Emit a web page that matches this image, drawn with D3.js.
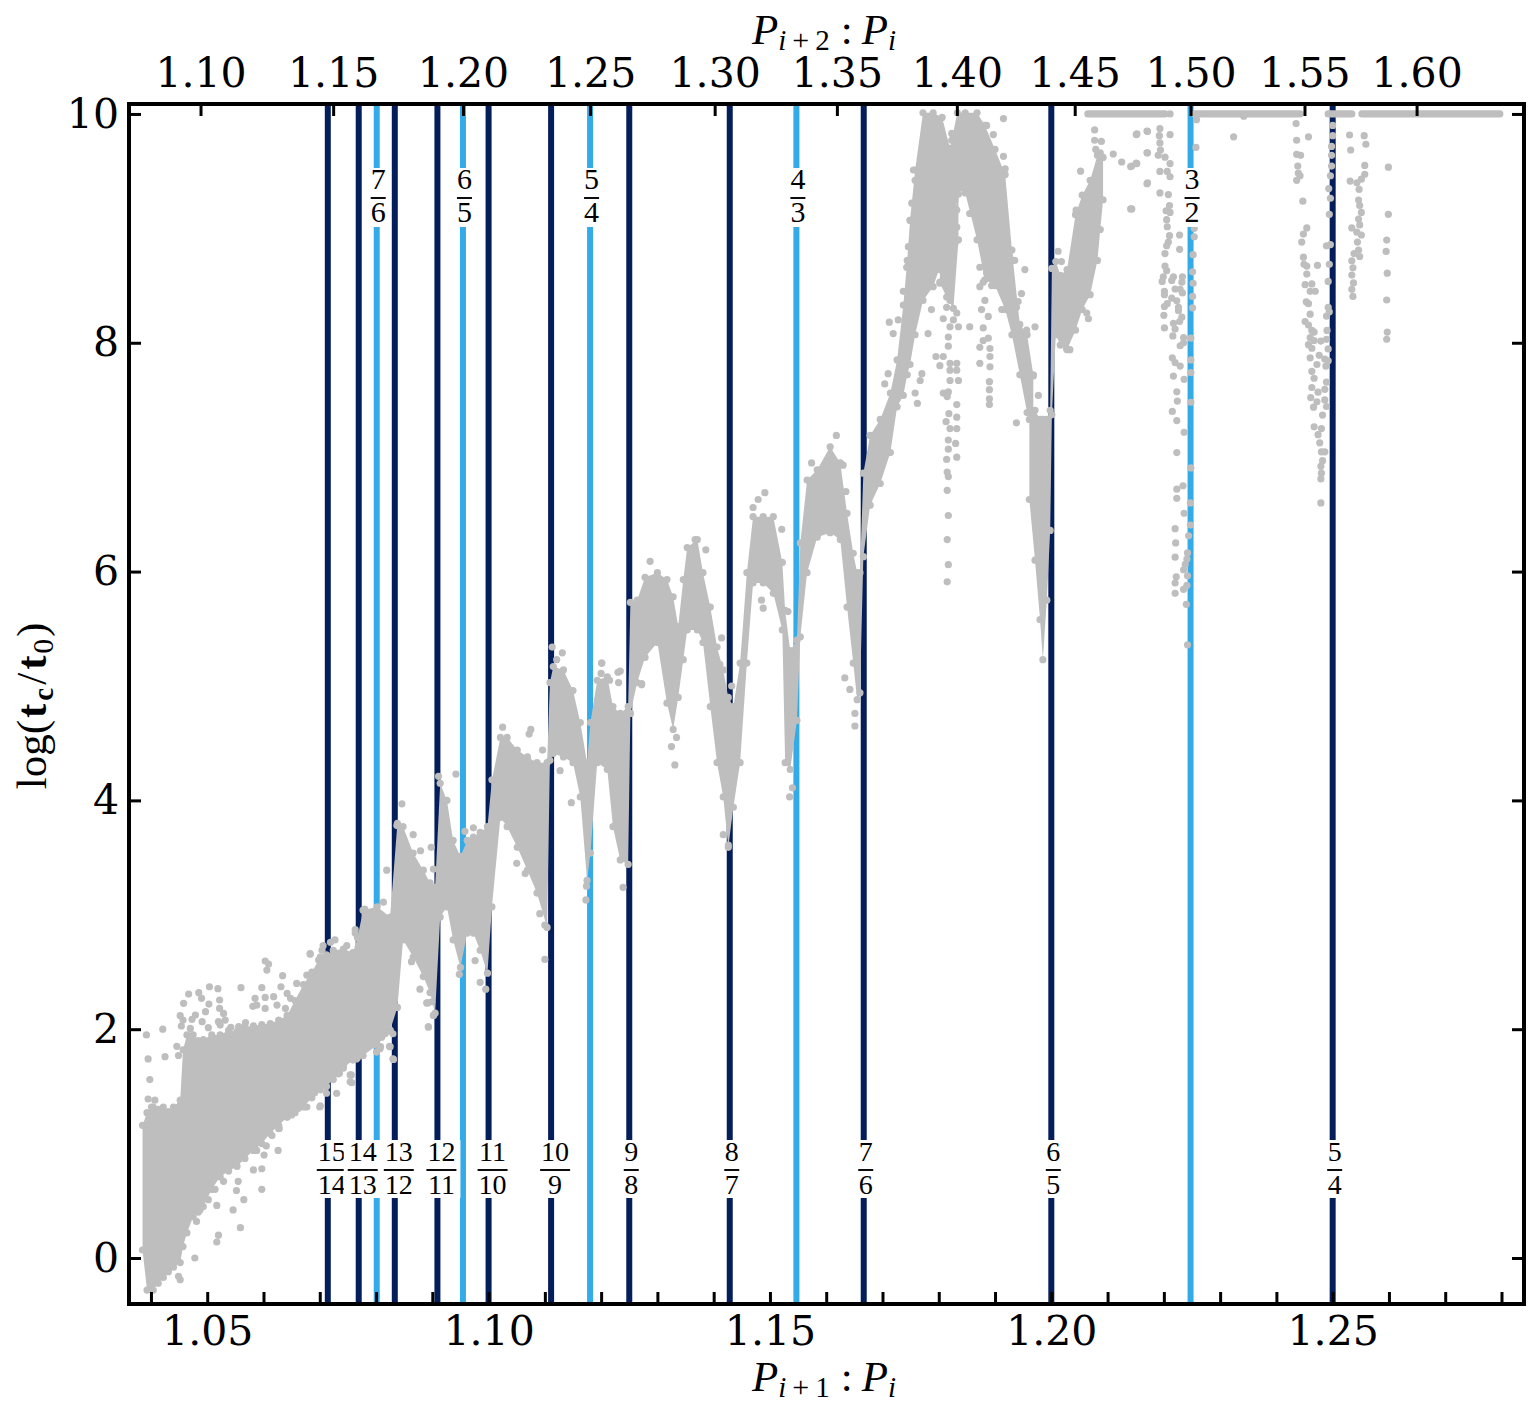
<!DOCTYPE html>
<html>
<head>
<meta charset="utf-8">
<style>
  html, body { margin: 0; padding: 0; background: #fff; }
  svg { display: block; }
</style>
<script src="https://cdnjs.cloudflare.com/ajax/libs/d3/7.8.5/d3.min.js"></script>
</head>
<body>
<svg id="chart" width="1539" height="1419"></svg>
<script>
// Collision time against period ratio of adjacent planets.
const bottomTicks = [1.04,1.05,1.06,1.07,1.08,1.09,1.10,1.11,1.12,1.13,1.14,1.15,1.16,1.17,1.18,1.19,1.20,1.21,1.22,1.23,1.24,1.25,1.26,1.27,1.28];
const bottomLabelled = [1.05,1.10,1.15,1.20,1.25];
const topTicks = [1.10,1.15,1.20,1.25,1.30,1.35,1.40,1.45,1.50,1.55,1.60];
const yTicks = [0,2,4,6,8,10];

// First-order resonances between neighbours, and between next-nearest neighbours.
const neighbourResonances = [[15,14],[14,13],[13,12],[12,11],[11,10],[10,9],[9,8],[8,7],[7,6],[6,5],[5,4]];
const nextNeighbourResonances = [[7,6],[6,5],[5,4],[4,3],[3,2]];

// Dense part of the cloud: [ratio, lowest log time, highest log time].
const riseBand = [
[1.0385,0.07,1.16],[1.0393,-0.28,1.27],[1.0404,-0.28,1.32],[1.0413,-0.22,1.3],[1.0422,-0.17,1.32],[1.0431,-0.12,1.28],[1.0440,-0.08,1.32],[1.0452,-0.04,1.38],
[1.0457,0.10,1.82],[1.0464,0.22,1.95],[1.0475,0.36,1.95],[1.0484,0.4,1.9],[1.0493,0.45,1.91],[1.0508,0.6,1.95],[1.0523,0.71,1.95],[1.0538,0.76,1.99],[1.0553,0.80,1.98],
[1.0567,0.87,2.02],[1.0582,0.94,2.03],[1.0597,1.0,2.04],[1.0612,1.09,2.05],[1.0627,1.16,2.08],[1.0642,1.23,2.12],[1.0656,1.27,2.25],[1.0671,1.32,2.39],[1.0686,1.40,2.5],[1.0701,1.47,2.63],[1.0712,1.5,2.65],[1.0724,1.56,2.69],
[1.0742,1.66,2.7],[1.0759,1.73,2.67],[1.0767,1.75,2.8],[1.0777,1.77,3.04],[1.0802,1.86,3.07],[1.0825,1.99,2.98],[1.0838,2.19,3.80],[1.0848,2.78,3.77],
[1.0866,2.63,3.54],[1.0884,2.46,3.39],[1.0896,2.32,3.28],[1.0905,2.14,3.24],[1.0914,2.98,4.15],[1.0926,3.07,4.00],
[1.0937,2.78,3.65],[1.0950,2.54,3.51],[1.0962,2.84,3.65],[1.0973,2.84,3.68],[1.0985,2.69,3.72],[1.0998,2.49,3.77],
[1.1006,3.07,4.18],[1.1021,3.85,4.55],[1.1033,3.77,4.55],[1.1051,3.59,4.44],[1.1069,3.39,4.38],[1.1086,3.19,4.33],
[1.1104,2.89,4.33],[1.1109,4.35,5.03],[1.1115,4.41,5.17],[1.1133,4.38,5.14],[1.1150,4.33,4.96],[1.1163,4.03,4.68],
[1.1175,3.30,4.33],[1.1181,3.54,4.68],[1.1193,4.33,5.05],[1.1211,4.27,5.08],[1.1221,3.77,4.82],[1.1234,3.48,4.76],
[1.1248,3.44,4.82],[1.1252,4.76,5.73],[1.1264,5.03,5.75],[1.1278,5.25,5.95],[1.1300,5.38,5.99],[1.1317,4.85,5.93],
[1.1328,4.62,5.78],[1.1337,4.90,5.52],[1.1346,5.23,5.93],[1.1353,5.49,6.21],[1.1371,5.49,6.28],[1.1381,5.38,5.99],
[1.1394,4.82,5.69],[1.1406,4.33,5.34],[1.1417,4.03,5.14],[1.1426,3.59,4.90],[1.1435,3.94,4.82],[1.1447,4.33,5.20],
[1.1459,5.20,5.99],[1.1470,5.90,6.48],[1.1488,5.90,6.48],[1.1506,5.81,6.48],[1.1522,5.49,6.08],[1.1527,4.33,5.66],
[1.1536,4.27,5.31],[1.1548,4.70,5.40],[1.1554,5.43,6.25],[1.1566,5.99,6.80],[1.1584,6.30,6.89],[1.1607,6.34,7.09],
[1.1625,6.28,6.95],[1.1637,5.69,6.51],[1.1648,5.20,6.16],[1.1655,4.88,5.99],[1.1660,4.94,5.99],[1.1666,6.13,6.86],
[1.1678,6.58,7.19],[1.1696,6.77,7.33],[1.1714,7.04,7.56],[1.1726,7.44,7.85],[1.1737,7.54,8.33],[1.1744,7.72,8.72],[1.1749,7.81,9.07],
[1.1758,8.07,9.51],[1.1772,8.37,10.01],[1.1790,8.49,10.01],[1.1806,8.72,9.97],[1.1820,8.59,9.70],[1.1833,9.34,10.01],
[1.1847,9.31,10.01],[1.1868,8.90,10.01],[1.1882,8.55,9.90],[1.1900,8.50,9.69],[1.1918,8.29,9.47],[1.1930,8.07,8.81],
[1.1944,7.72,8.16],[1.1957,7.39,8.07],[1.1968,7.28,7.72]
];
const dipBand = [
[1.1961,6.63,7.33],[1.1971,6.10,7.41],[1.1980,5.58,7.33],[1.1985,5.23,7.33],[1.1992,5.75,7.33],[1.1998,6.36,7.41],
[1.2001,7.37,8.65],[1.2008,8.07,8.71],[1.2016,7.98,8.59],[1.2028,7.94,8.64],[1.2043,8.11,9.12],[1.2055,8.29,9.29],
[1.2069,8.42,9.42],[1.2082,8.72,9.64],[1.2087,8.99,9.66],[1.2092,9.25,9.62]
];
const branchBand = [[1.1802,8.52,8.66],[1.1814,8.40,8.75],[1.1826,8.30,9.1],[1.1835,8.9,9.3]];

// Stretches of systems that survived to the end of the integrations.
const survivedLevel = 10;
const survivedRuns = [[1.2065,1.2202],[1.2255,1.2442],[1.2492,1.2534],[1.2552,1.2797]];

// Individual systems around the edges of the cloud: [ratio, log time].
const scatterLeft = [
[1.0392,1.95],[1.0421,2.00],[1.0395,1.74],[1.0425,1.76],[1.0398,1.56],[1.0395,1.39],[1.0407,1.38],[1.0401,1.32],
[1.0446,1.85],[1.0449,1.77],[1.0603,2.596],[1.0609,2.57],[1.0606,2.517],[1.0634,2.468],[1.0683,2.657],[1.0504,2.371],
[1.0519,2.354],[1.0560,2.363],[1.0597,2.363],[1.0631,2.371],[1.0467,2.307],[1.0485,2.319],[1.0490,2.27],[1.0458,2.226],
[1.0522,2.255],[1.0503,2.22],[1.0497,2.153],[1.0452,2.118],[1.0479,2.124],[1.0473,2.086],[1.0457,2.08],[1.0454,2.028],
[1.0491,2.066],[1.0522,2.182],[1.0529,2.138],[1.0520,2.066],[1.0532,2.08],[1.0523,2.036],[1.0502,2.013],[1.0470,2.007],
[1.0542,2.016],[1.0556,2.022],[1.0568,2.057],[1.0585,2.27],[1.0588,2.21],[1.0581,2.2],[1.0603,2.278],[1.0618,2.284],
[1.0603,2.182],[1.0624,2.211],[1.0639,2.182],[1.0642,2.313],[1.0648,2.27],[1.0659,2.40],[1.0677,2.473],[1.0698,2.605],
[1.0727,2.78],[1.0704,2.69],[1.0763,2.87],[1.0478,0.00],[1.0449,-0.16],[1.0452,-0.19],[1.0517,0.14],[1.0520,0.20],
[1.0559,0.265],[1.0546,0.42],[1.0565,0.51],[1.0597,0.60],[1.0552,0.59],[1.0555,0.67],[1.0582,0.77],[1.0597,0.78],
[1.0601,0.90],[1.0588,0.94],[1.0626,0.94],[1.0605,0.98],[1.0627,1.13],[1.0615,1.07],[1.0650,1.25],[1.0674,1.32],
[1.0700,1.32],[1.0730,1.44],[1.0712,1.44],[1.0754,1.54],[1.0756,1.60],[1.0733,1.61],[1.0739,1.67],[1.0765,1.74],
[1.0801,1.80],[1.0807,1.83],[1.0830,1.74],[1.0824,1.85],[1.0830,1.96],[1.0798,1.96],[1.0816,1.96],[1.0893,2.02],
[1.0902,2.12],[1.0890,2.23],[1.0899,2.24],[1.0502,0.51],[1.0517,0.46],[1.0487,0.42],[1.0481,0.32],[1.0493,0.54],
[1.0514,0.60],[1.0529,0.67],[1.0701,1.33],[1.0677,1.32],[1.0662,1.308],[1.0628,1.133],[1.0691,1.445],[1.0671,1.41],
[1.0735,1.614],[1.0757,1.532],[1.0754,1.6],[1.0742,1.672],[1.0733,1.76],[1.0739,1.832],[1.0766,1.76],[1.0767,1.876],
[1.0754,1.847],[1.0668,1.57],[1.0689,1.6],[1.0808,1.847],[1.0825,1.847],[1.0831,1.736],[1.0810,1.93],[1.0819,1.98]
];
const scatterMiddle = [
[1.0683,2.66],[1.0706,2.73],[1.0719,2.76],[1.0748,2.73],[1.0763,2.84],[1.0780,3.05],[1.0813,3.11],[1.0819,3.39],
[1.0846,3.97],[1.0837,3.78],[1.0866,3.70],[1.0879,3.56],[1.0898,3.59],[1.0902,3.40],[1.0911,4.21],[1.0942,4.23],
[1.0958,3.73],[1.0973,3.76],[1.1025,4.64],[1.1075,4.62],[1.1072,4.58],[1.1096,4.44],[1.1113,5.34],[1.1131,5.29],
[1.1121,5.23],[1.1201,5.20],[1.1200,5.11],[1.1147,3.98],[1.1127,4.26],[1.1100,2.61],[1.1239,3.24],[1.1174,3.25],
[1.1173,3.13],[1.1331,4.31],[1.1325,4.47],[1.1334,4.55],[1.0893,2.02],[1.0878,2.35],[1.0892,2.23],[1.0902,2.12],
[1.0948,2.48],[1.0995,2.35],[1.0985,2.41],[1.0863,2.59],[1.0976,2.60],[1.1050,3.45],[1.1065,3.36],[1.1100,2.91],
[1.1091,3.01],[1.1230,4.44],[1.1230,5.12],[1.1272,5.02],[1.0798,1.96],[1.0813,1.96],[1.0825,1.99],[1.1287,6.09],
[1.1367,6.28],[1.1386,6.19],[1.1414,5.42],[1.1411,5.19],[1.1426,3.61],[1.1417,3.70],[1.1432,5.00],[1.1491,6.69],
[1.1479,6.63],[1.1470,6.56],[1.1485,5.75],[1.1488,5.68],[1.1521,6.37],[1.1535,4.03],[1.1540,4.11],[1.1532,5.65],
[1.1574,6.95],[1.1618,7.19],[1.1630,6.93],[1.1635,6.70],[1.1651,4.65],[1.1651,4.76],[1.1642,4.97],[1.1633,5.07],
[1.1272,5.01],[1.1234,5.13],[1.1231,5.03],[1.1201,5.20],[1.1215,5.05],[1.1252,4.76]
];
const scatterPeak = [
[1.1832,9.16],[1.1829,9.25],[1.1832,9.01],[1.1829,8.87],[1.1826,8.75],[1.1802,8.64],[1.1814,8.61],[1.1820,8.55],
[1.1802,8.53],[1.1820,8.37],[1.1814,8.31],[1.1832,8.26],[1.1808,8.21],[1.1826,8.20],[1.1820,8.14],[1.1835,8.14],
[1.1817,8.05],[1.1817,7.97],[1.1808,7.88],[1.1795,7.88],[1.1802,7.80],[1.1820,7.82],[1.1832,7.82],[1.1820,7.76],
[1.1832,7.76],[1.1820,7.67],[1.1835,7.67],[1.1817,7.57],[1.1808,7.56],[1.1815,7.53],[1.1832,7.46],[1.1818,7.38],
[1.1832,7.35],[1.1813,7.31],[1.1820,7.25],[1.1832,7.25],[1.1817,7.15],[1.1830,7.12],[1.1817,7.07],[1.1814,6.98],
[1.1832,7.00],[1.1815,6.87],[1.1817,6.83],[1.1815,6.71],[1.1817,6.49],[1.1815,6.28],[1.1817,6.06],[1.1815,5.91],
[1.1873,8.49],[1.1882,8.37],[1.1876,8.29],[1.1888,8.23],[1.1879,8.13],[1.1888,8.04],[1.1879,8.02],[1.1873,7.96],
[1.1891,7.95],[1.1891,7.88],[1.1873,7.82],[1.1891,7.79],[1.1890,7.66],[1.1890,7.59],[1.1890,7.51],[1.1890,7.46],
[1.1855,8.14],[1.1855,9.13],[1.1915,9.96],[1.1873,8.66],[1.1885,8.61],[1.1897,8.66],[1.1909,8.55],[1.1894,8.50],
[1.1920,8.49],[1.1879,8.53],[1.1926,8.75],[1.1935,8.72],[1.1953,8.64],[1.1947,8.43],[1.1941,8.36],[1.1912,8.29],
[1.1938,8.31],[1.1971,8.14],[1.1956,8.11],[1.1968,7.71],[1.1977,7.54],[1.1938,7.30],[1.1712,8.18],[1.1781,8.08],
[1.1787,8.29],[1.1767,7.67],[1.1758,7.56],[1.1762,7.47],[1.1770,7.73],[1.1755,9.51],[1.1758,9.42],[1.1752,9.22],
[1.1749,9.07],[1.1746,8.84],[1.1743,8.66],[1.1737,8.45],[1.1728,8.20],[1.1719,8.08],[1.1710,7.73],[1.1704,7.64],
[1.1770,9.61],[1.1915,9.63],[1.1918,9.52],[1.1897,9.82],[1.1885,9.90],[1.1823,9.77],[1.1823,9.83],[1.2052,9.50],
[1.2044,9.16],[1.2089,9.76],[1.2077,9.86],[1.2077,9.77],[1.2079,9.69],[1.2012,8.80],[1.2018,8.71],[1.2063,8.26],
[1.2066,8.21],[1.2027,7.95],[1.2033,7.94],[1.2110,9.65],[1.2125,9.58],[1.2141,9.54],[1.2151,9.57],[1.2151,9.82],
[1.2170,9.85],[1.2170,9.66],[1.2170,9.39],[1.2141,9.17],[1.2211,10.0]
];
const scatterThreeTwo = [
[1.2152,9.825],[1.2171,9.847],[1.2193,9.872],[1.2192,9.81],[1.2193,9.747],[1.2194,9.685],[1.2190,9.638],[1.2202,9.622],
[1.2211,9.819],[1.2171,9.66],[1.2152,9.566],[1.2143,9.544],[1.2211,9.566],[1.2193,9.498],[1.2206,9.498],[1.2211,9.451],
[1.2171,9.398],[1.2193,9.31],[1.2208,9.295],[1.2143,9.17],[1.2210,9.2],[1.2204,9.154],[1.2211,9.139],[1.2205,9.076],
[1.2206,9.014],[1.2210,8.936],[1.2228,8.942],[1.2208,8.88],[1.2205,8.848],[1.2228,8.817],[1.2202,8.78],[1.2202,8.67],
[1.2205,8.63],[1.2199,8.577],[1.2197,8.536],[1.2217,8.577],[1.2214,8.545],[1.2233,8.577],[1.2232,8.53],[1.2201,8.45],
[1.2201,8.42],[1.2220,8.47],[1.2229,8.467],[1.2233,8.436],[1.2214,8.39],[1.2223,8.367],[1.2201,8.317],[1.2206,8.342],
[1.2226,8.31],[1.2226,8.28],[1.2200,8.24],[1.2232,8.224],[1.2228,8.186],[1.2217,8.17],[1.2220,8.12],[1.2201,8.13],
[1.2216,8.06],[1.2235,8.046],[1.2235,8.0],[1.2229,7.974],[1.2215,7.868],[1.2220,7.827],[1.2229,7.796],[1.2217,7.709],
[1.2236,7.68],[1.2223,7.571],[1.2224,7.49],[1.2215,7.4],[1.2223,7.32],[1.2236,7.218],[1.2223,7.04],[1.2234,6.75],
[1.2223,6.72],[1.2223,6.64],[1.2236,6.51],[1.2220,6.375],[1.2221,6.25],[1.2220,6.126],[1.2242,6.163],[1.2241,6.11],
[1.2238,6.063],[1.2235,6.016],[1.2242,5.963],[1.2222,5.954],[1.2220,5.9],[1.2220,5.81],[1.2241,5.88],[1.2235,5.845],
[1.2240,5.714],[1.2242,5.36],[1.2258,9.95],[1.2257,9.707],[1.2254,9.0],[1.2254,8.926],[1.2252,8.77],[1.2251,8.62],
[1.2252,8.52],[1.2251,8.405],[1.2251,8.305],[1.2248,8.04],[1.2248,7.85],[1.2248,7.74],[1.2248,7.48],[1.2248,6.906],
[1.2247,6.6],[1.2247,6.407],[1.2244,6.313],[1.2324,9.80],[1.2342,9.98]
];
const scatterFiveFour = [
[1.2435,9.916],[1.2457,9.80],[1.2436,9.77],[1.2436,9.647],[1.2443,9.638],[1.2438,9.544],[1.2439,9.482],[1.2436,9.42],
[1.2442,9.46],[1.2447,9.238],[1.2454,9.004],[1.2448,8.95],[1.2445,8.88],[1.2448,8.748],[1.2449,8.686],[1.2454,8.67],
[1.2454,8.6],[1.2473,8.677],[1.2451,8.508],[1.2463,8.514],[1.2460,8.45],[1.2469,8.45],[1.2453,8.358],[1.2457,8.342],
[1.2460,8.25],[1.2451,8.186],[1.2457,8.155],[1.2463,8.108],[1.2467,8.093],[1.2460,8.046],[1.2467,8.02],[1.2479,8.015],
[1.2457,7.983],[1.2463,7.952],[1.2460,7.868],[1.2476,7.89],[1.2486,7.858],[1.2472,7.81],[1.2463,7.75],[1.2467,7.69],
[1.2489,7.656],[1.2463,7.609],[1.2474,7.568],[1.2486,7.593],[1.2461,7.521],[1.2472,7.484],[1.2486,7.5],[1.2466,7.437],
[1.2489,7.443],[1.2482,7.368],[1.2467,7.265],[1.2480,7.25],[1.2474,7.197],[1.2477,7.125],[1.2480,7.047],[1.2486,7.047],
[1.2482,6.969],[1.2479,6.92],[1.2480,6.86],[1.2479,6.81],[1.2479,6.6],[1.2500,9.9],[1.2500,9.81],[1.2498,9.716],
[1.2498,9.638],[1.2498,9.544],[1.2496,9.46],[1.2493,9.348],[1.2496,9.263],[1.2494,9.123],[1.2496,8.858],[1.2489,8.848],
[1.2494,8.686],[1.2492,8.536],[1.2492,8.31],[1.2494,8.27],[1.2489,8.233],[1.2490,8.108],[1.2489,8.03],[1.2492,7.946],
[1.2492,7.843],[1.2488,7.796]
];
const scatterRight = [
[1.2530,9.816],[1.2556,9.81],[1.2559,9.735],[1.2532,9.685],[1.2557,9.55],[1.2557,9.473],[1.2551,9.43],[1.2531,9.413],
[1.2543,9.398],[1.2547,9.34],[1.2546,9.248],[1.2548,9.2],[1.2551,9.139],[1.2546,9.082],[1.2548,9.03],[1.2534,9.004],
[1.2543,8.967],[1.2551,8.942],[1.2544,8.88],[1.2546,8.81],[1.2548,8.754],[1.2538,8.78],[1.2534,8.717],[1.2536,8.655],
[1.2534,8.592],[1.2537,8.523],[1.2534,8.467],[1.2536,8.405],[1.2599,9.535],[1.2599,9.123],[1.2596,8.898],[1.2595,8.798],
[1.2597,8.608],[1.2596,8.374],[1.2597,8.093],[1.2596,8.03]
];

const colors = { navy: "#031E5B", sky: "#33ABE8", dot: "#BEBEBE", ink: "#000" };
const tickFont = "'DejaVu Serif', serif";
const mathFont = "'Liberation Serif', serif";
const dotRadius = 3.6;

const svg = d3.select("#chart");
const plotLeft = 129, plotRight = 1524, plotTop = 104, plotBottom = 1304;

const x = d3.scaleLinear().domain([1.0361, 1.2840]).range([plotLeft, plotRight]);
const y = d3.scaleLinear().domain([-0.402, 10.087]).range([plotBottom, plotTop]);
// The upper axis is the square of the lower one, so a square-root scale stays aligned with it.
const xTop = d3.scaleSqrt().domain([1.0361 * 1.0361, 1.2840 * 1.2840]).range([plotLeft, plotRight]);

// Resonance lines
const nextRatio = r => Math.sqrt(r[0] / r[1]);
const neighbourRatio = r => r[0] / r[1];
svg.append("g").selectAll("line").data(neighbourResonances).join("line")
  .attr("x1", d => x(neighbourRatio(d))).attr("x2", d => x(neighbourRatio(d)))
  .attr("y1", plotTop).attr("y2", plotBottom)
  .attr("stroke", colors.navy).attr("stroke-width", 6);
svg.append("g").selectAll("line").data(nextNeighbourResonances).join("line")
  .attr("x1", d => x(nextRatio(d))).attr("x2", d => x(nextRatio(d)))
  .attr("y1", plotTop).attr("y2", plotBottom)
  .attr("stroke", colors.sky).attr("stroke-width", 6);

// Dense cloud, with the systems at its limits drawn as individual dots
const bands = [riseBand, dipBand, branchBand];
const band = d3.area().x(d => x(d[0])).y0(d => y(d[1])).y1(d => y(d[2]));
svg.append("g").selectAll("path").data(bands).join("path")
  .attr("d", band).attr("fill", colors.dot);
const bandEdges = bands.flat().flatMap(r => [[r[0], r[1]], [r[0], r[2]]]);

// Saturated systems along the top of the panel
svg.append("g").selectAll("line").data(survivedRuns).join("line")
  .attr("x1", d => x(d[0])).attr("x2", d => x(d[1]))
  .attr("y1", y(survivedLevel)).attr("y2", y(survivedLevel))
  .attr("stroke", colors.dot).attr("stroke-width", dotRadius * 2).attr("stroke-linecap", "round");

// Individual systems
const allScatter = [bandEdges, scatterLeft, scatterMiddle, scatterPeak, scatterThreeTwo, scatterFiveFour, scatterRight].flat();
svg.append("g").selectAll("circle").data(allScatter).join("circle")
  .attr("cx", d => x(d[0])).attr("cy", d => y(d[1])).attr("r", dotRadius).attr("fill", colors.dot);

// Stacked fraction labels with a white backing
function fraction(g, num, den, cx, boxTop, boxH, digitSize, lift) {
  const wide = String(num).length > 1 || String(den).length > 1;
  const boxW = wide ? 38 : 23;
  const barW = wide ? 30 : 15;
  g.append("rect").attr("x", cx - boxW / 2).attr("y", boxTop).attr("width", boxW).attr("height", boxH).attr("fill", "#fff");
  const mid = boxTop + lift;
  g.append("line").attr("x1", cx - barW / 2).attr("x2", cx + barW / 2).attr("y1", mid).attr("y2", mid)
    .attr("stroke", colors.ink).attr("stroke-width", 1.9);
  g.append("text").attr("x", cx).attr("y", mid - 9.5).attr("text-anchor", "middle")
    .attr("font-family", mathFont).attr("font-size", digitSize).text(num);
  g.append("text").attr("x", cx).attr("y", mid + 24).attr("text-anchor", "middle")
    .attr("font-family", mathFont).attr("font-size", digitSize).text(den);
}
const labels = svg.append("g");
neighbourResonances.forEach(d => {
  const nudge = d[0] >= 10 ? 4 : 2;
  fraction(labels, d[0], d[1], x(neighbourRatio(d)) + nudge, 1140, 58, 28, 30);
});
nextNeighbourResonances.forEach(d => {
  fraction(labels, d[0], d[1], x(nextRatio(d)) + 1.5, 168, 59, 30, 30);
});

// Axes
const styleAxis = g => {
  g.select(".domain").remove();
  g.selectAll(".tick line").attr("stroke", colors.ink).attr("stroke-width", 3);
  g.selectAll(".tick text").attr("font-family", tickFont).attr("font-size", 41).attr("fill", colors.ink);
};
svg.append("g").attr("transform", `translate(0,${plotBottom})`)
  .call(d3.axisBottom(x).tickValues(bottomTicks).tickSizeInner(-12).tickSizeOuter(0).tickPadding(12)
    .tickFormat(v => bottomLabelled.some(l => Math.abs(l - v) < 1e-9) ? d3.format(".2f")(v) : ""))
  .call(styleAxis);
svg.append("g").attr("transform", `translate(0,${plotTop})`)
  .call(d3.axisTop(xTop).tickValues(topTicks).tickSizeInner(-12).tickSizeOuter(0).tickPadding(17)
    .tickFormat(d3.format(".2f")))
  .call(styleAxis);
svg.append("g").attr("transform", `translate(${plotLeft},0)`)
  .call(d3.axisLeft(y).tickValues(yTicks).tickSizeInner(-12).tickSizeOuter(0).tickPadding(10).tickFormat(d3.format("d")))
  .call(styleAxis);
svg.append("g").attr("transform", `translate(${plotRight},0)`)
  .call(d3.axisRight(y).tickValues(yTicks).tickSizeInner(-12).tickSizeOuter(0).tickFormat(""))
  .call(styleAxis);

// Frame
svg.append("rect").attr("x", plotLeft).attr("y", plotTop).attr("width", plotRight - plotLeft).attr("height", plotBottom - plotTop)
  .attr("fill", "none").attr("stroke", colors.ink).attr("stroke-width", 4);

// Axis titles
function ratioTitle(px, py, sub) {
  const t = svg.append("text").attr("x", px).attr("y", py)
    .attr("font-family", mathFont).attr("font-size", 43).attr("fill", colors.ink);
  t.append("tspan").attr("font-style", "italic").text("P");
  t.append("tspan").attr("font-style", "italic").attr("font-size", 29).attr("dy", 6).text("i");
  t.append("tspan").attr("font-size", 30).attr("dx", 6).text("+");
  t.append("tspan").attr("font-size", 29).attr("dx", 6).text(sub);
  t.append("tspan").attr("dy", -6).attr("dx", 11).text(":");
  t.append("tspan").attr("font-style", "italic").attr("dx", 9).text("P");
  t.append("tspan").attr("font-style", "italic").attr("font-size", 29).attr("dy", 6).text("i");
}
ratioTitle(752, 44, "2");
ratioTitle(752, 1391, "1");

const yTitle = svg.append("text").attr("transform", "translate(46,706) rotate(-90)").attr("text-anchor", "middle")
  .attr("font-family", mathFont).attr("font-size", 43).attr("fill", colors.ink);
yTitle.append("tspan").text("log(");
yTitle.append("tspan").attr("font-weight", "bold").attr("dx", 2).text("t");
yTitle.append("tspan").attr("font-weight", "bold").attr("font-size", 29).attr("dy", 7).attr("dx", 3).text("c");
yTitle.append("tspan").attr("dy", -7).attr("dx", 3).text("/");
yTitle.append("tspan").attr("font-weight", "bold").attr("dx", 3).text("t");
yTitle.append("tspan").attr("font-size", 29).attr("dy", 7).attr("dx", 2).text("0");
yTitle.append("tspan").attr("dy", -7).attr("dx", 2).text(")");
</script>
</body>
</html>
